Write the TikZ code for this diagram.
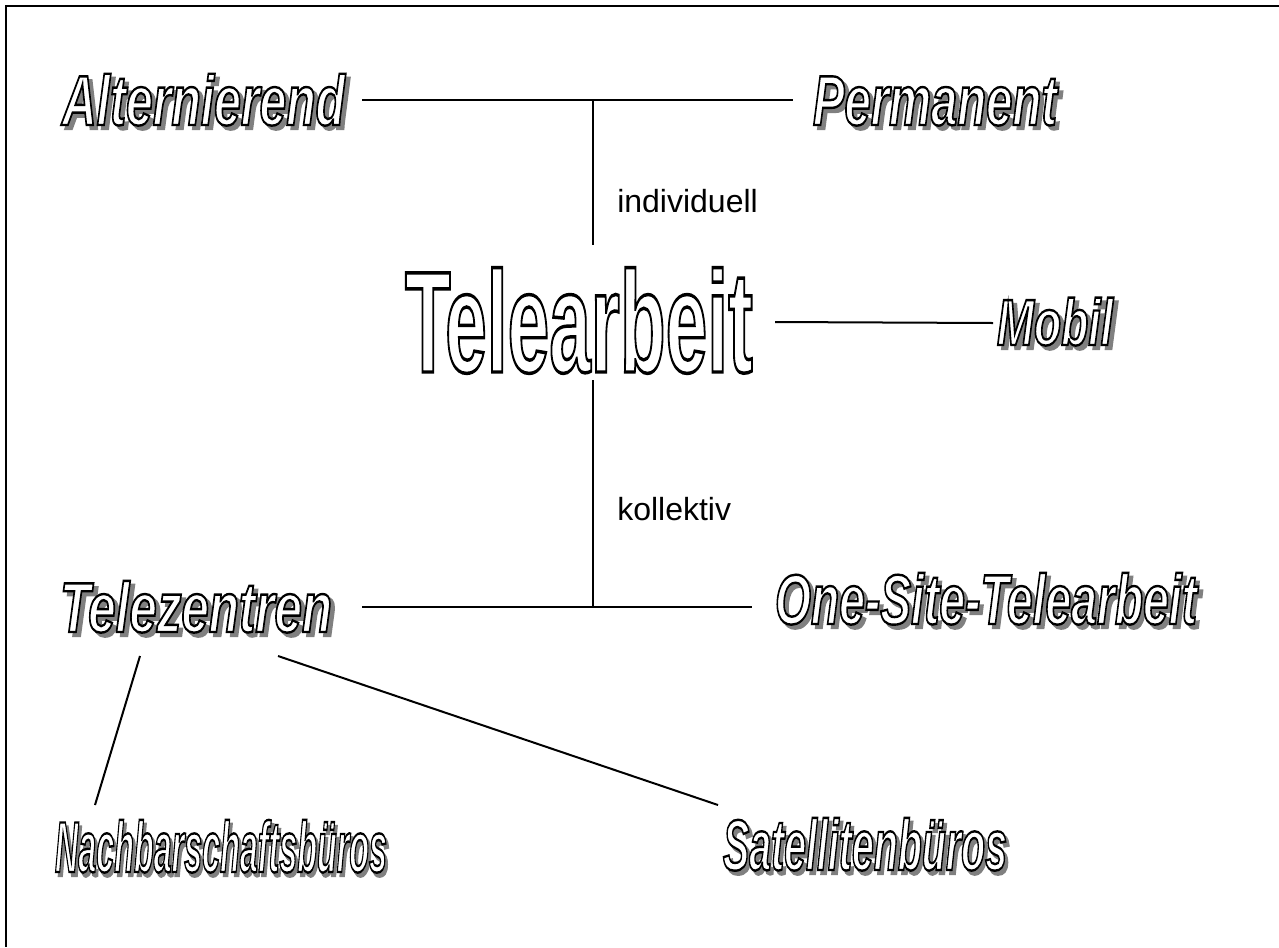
\documentclass[tikz,border=0pt]{standalone}
\usepackage{fontspec}
\setmainfont{Liberation Sans}
\usepackage{graphicx}
\newlength\upx
\setlength\upx{0.75pt}
\newcommand\outl[2][1.8]{\special{pdf:literal direct 2 Tr #1 w 1 g 0 G}#2\special{pdf:literal direct 0 Tr 0 g 0 G}}
\newcommand\wordart[3]{\resizebox{#1\upx}{\height}{\fontsize{#2}{#2}\selectfont\bfseries\itshape\makebox[0pt][l]{\raisebox{-3pt}{\hspace{4.5pt}\textcolor{black!50}{\outl[1.8]{\special{pdf:literal direct 0.5 g 0.5 G}#3}}}}\outl{#3}}}
\tikzset{
  conn/.style={line width=2\upx, line cap=butt},
  frameline/.style={line width=2.5\upx},
  wa/.style={anchor=base west, inner sep=0pt, outer sep=0pt},
  lbl/.style={anchor=base west, inner sep=0pt, font=\fontsize{24pt}{24pt}\selectfont}
}
\begin{document}
\begin{tikzpicture}[x=0.75pt,y=-0.75pt]
\useasboundingbox (0,0) rectangle (1279,947);
% page frame (top and left edges)
\coordinate (fTL) at (6,6);
\coordinate (fTR) at (1279,6);
\coordinate (fBL) at (6,947);
\draw[frameline] (fTR) -- (fTL) -- (fBL);

% labels
\node[wa] (alt) at (62,125) {\wordart{283}{53pt}{Alternierend}};
\node[wa] (perm) at (813,125) {\wordart{244}{53pt}{Permanent}};
\node[wa] (mob) at (997,345) {\wordart{116}{49pt}{Mobil}};
\node[wa] (tz) at (60,632) {\wordart{272}{53pt}{Telezentren}};
\node[wa] (ost) at (775,624) {\wordart{422}{53pt}{One-Site-Telearbeit}};
\node[wa] (nach) at (55,872) {\wordart{332}{54pt}{Nachbarschaftsbüros}};
\node[wa] (sat) at (723,870) {\wordart{284}{54pt}{Satellitenbüros}};
\node[wa] (tele) at (405,372) {\resizebox{348\upx}{\height}{\fontsize{108pt}{108pt}\selectfont\bfseries\outl[2.6]{Telearbeit}}};
\node[lbl] (ind) at (617,212) {individuell};
\node[lbl] (kol) at (617,520) {kollektiv};

% connector coordinates
\coordinate (a1) at (362,100);
\coordinate (a2) at (793,100);
\coordinate (aj) at (593,100);
\coordinate (at) at (593,245);
\coordinate (m1) at (775,322);
\coordinate (m2) at (993,323);
\coordinate (bt) at (593,380);
\coordinate (bj) at (593,607);
\coordinate (b1) at (362,607);
\coordinate (b2) at (752,607);
\coordinate (n1) at (140,656);
\coordinate (n2) at (95,805);
\coordinate (s1) at (278,656);
\coordinate (s2) at (718,805);

\draw[conn] (a1) -- (a2);
\draw[conn] (aj) -- (at);
\draw[conn] (m1) -- (m2);
\draw[conn] (bt) -- (bj);
\draw[conn] (b1) -- (b2);
\draw[conn] (n1) -- (n2);
\draw[conn] (s1) -- (s2);
\end{tikzpicture}
\end{document}
